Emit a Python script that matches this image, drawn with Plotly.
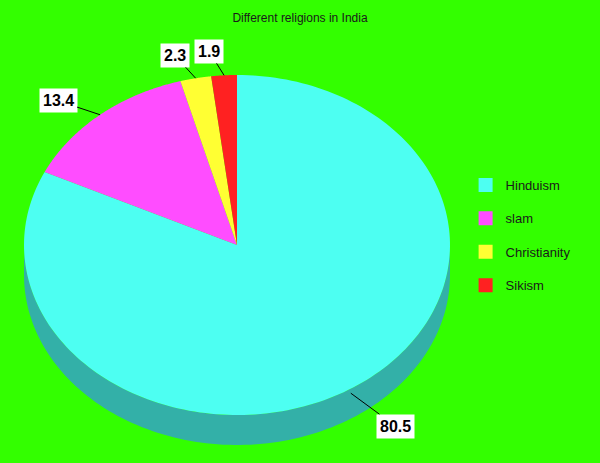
import numpy as np
import plotly.graph_objects as go

religions = ["Hinduism", "slam", "Christianity", "Sikism"]
shares = [80.5, 13.4, 2.3, 1.9]

top_colors = ["#4dfff2", "#ff4dff", "#ffff33", "#ff2121"]
side_colors = ["#33b0a8", "#b034b0", "#b0b022", "#b01616"]
label_offsets = [(45, 33), (-42, -14), (-21, -23), (-15, -24)]

# pie geometry, in pixel units of the plot area
cx, cy, rx, ry, depth = 237, 245, 213, 170, 30


def ellipse(t, dy=0):
    return cx + rx * np.sin(t), cy - ry * np.cos(t) + dy


fig = go.Figure()

total = sum(shares)
bounds = np.concatenate([[0], np.cumsum(shares)]) / total * 2 * np.pi

# side walls (only the front half is visible)
for i in range(len(shares)):
    a0 = max(bounds[i], np.pi / 2)
    a1 = min(bounds[i + 1], 3 * np.pi / 2)
    if a1 <= a0:
        continue
    t = np.linspace(a0, a1, 120)
    x1, y1 = ellipse(t)
    x2, y2 = ellipse(t[::-1], depth)
    fig.add_trace(go.Scatter(
        x=np.concatenate([x1, x2]), y=np.concatenate([y1, y2]),
        fill="toself", fillcolor=side_colors[i], mode="none",
        showlegend=False, hoverinfo="skip"
    ))

# top faces
for i in range(len(shares)):
    t = np.linspace(bounds[i], bounds[i + 1], 200)
    x, y = ellipse(t)
    fig.add_trace(go.Scatter(
        x=np.concatenate([[cx], x, [cx]]), y=np.concatenate([[cy], y, [cy]]),
        fill="toself", fillcolor=top_colors[i], mode="none",
        showlegend=False, hoverinfo="skip"
    ))

# legend entries
for i, name in enumerate(religions):
    fig.add_trace(go.Scatter(
        x=[None], y=[None], mode="markers", name=name,
        legendgroup=name,
        marker=dict(symbol="square", size=14, color=top_colors[i])
    ))

# value labels
for i, v in enumerate(shares):
    mid = (bounds[i] + bounds[i + 1]) / 2
    px, py = ellipse(mid)
    if np.cos(mid) < 0:
        py += depth * 0.15
    dx, dy = label_offsets[i]
    fig.add_annotation(
        x=px, y=py, ax=px + dx, ay=py + dy, axref="x", ayref="y",
        text="<b>%s</b>" % v, showarrow=True, arrowhead=0,
        arrowwidth=1, arrowcolor="#000000",
        bgcolor="#ffffff", borderpad=3,
        font=dict(size=16, color="#000000")
    )

fig.update_layout(
    width=600, height=463,
    margin=dict(l=0, r=0, t=0, b=0),
    paper_bgcolor="#33ff00", plot_bgcolor="#33ff00",
    font=dict(family="Arial, Liberation Sans, sans-serif", color="#1a1a1a"),
    title=dict(text="Different religions in India", x=0.5, xanchor="center",
               y=1 - 18 / 463, yanchor="middle", yref="container",
               font=dict(size=12, color="#1a1a1a")),
    xaxis=dict(range=[0, 600], visible=False, fixedrange=True),
    yaxis=dict(range=[463, 0], visible=False, fixedrange=True),
    legend=dict(x=0.776, y=1 - 170 / 463, xanchor="left", yanchor="top",
                bgcolor="rgba(0,0,0,0)", font=dict(size=13, color="#1a1a1a"),
                tracegroupgap=13.5),
    showlegend=True
)

fig.write_html("out.html", config={"displayModeBar": False},
               post_script="document.body.style.margin='0';")
